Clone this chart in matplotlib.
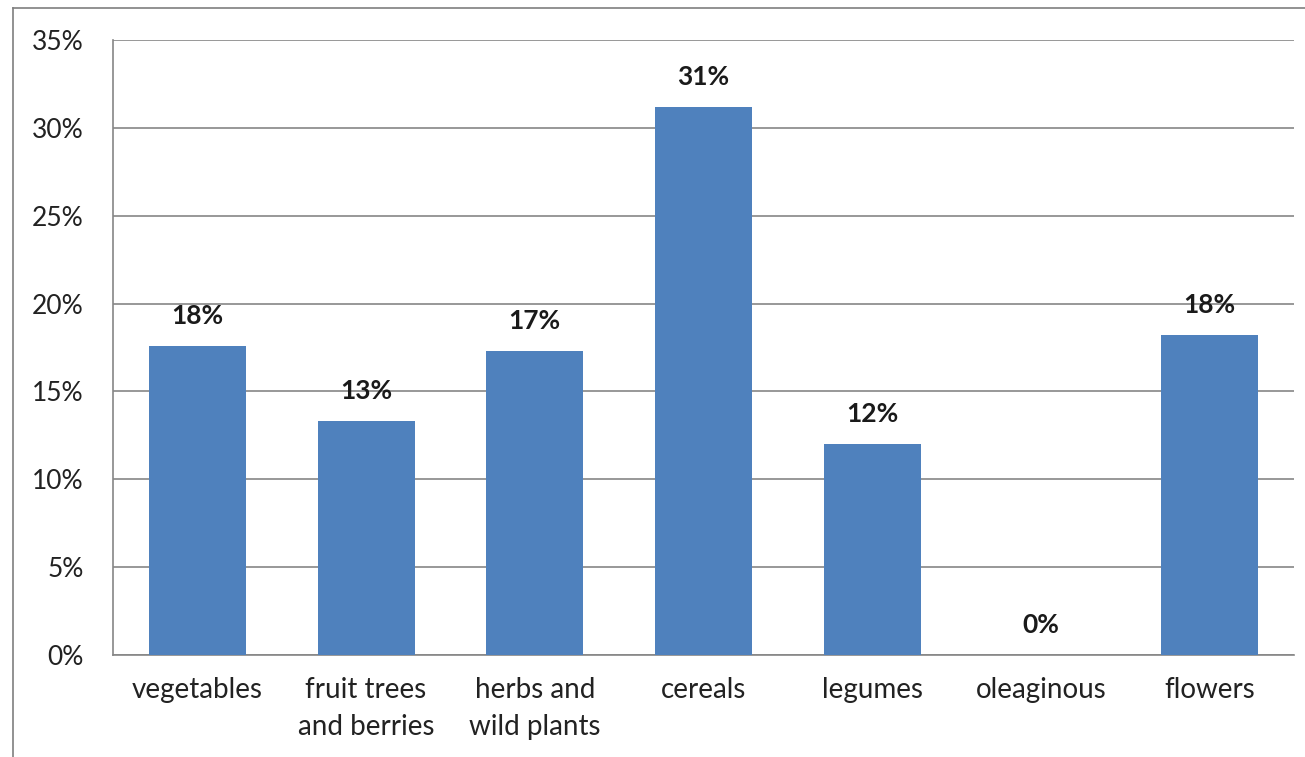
import matplotlib.pyplot as plt
from matplotlib.lines import Line2D
from matplotlib.ticker import FuncFormatter

categories = ['vegetables', 'fruit trees\nand berries', 'herbs and\nwild plants',
              'cereals', 'legumes', 'oleaginous', 'flowers']
shares = [17.6, 13.3, 17.3, 31.2, 12.0, 0.0, 18.2]
bar_labels = ['18%', '13%', '17%', '31%', '12%', '0%', '18%']
y_ticks = [0, 5, 10, 15, 20, 25, 30, 35]

plt.rcParams['font.family'] = ['Lato', 'DejaVu Sans']

fig = plt.figure(figsize=(13.05, 7.57), dpi=100)
ax = fig.add_axes([0.0866, 0.1347, 0.9050, 0.8125])

x = range(len(categories))
bars = ax.bar(x, shares, width=0.575, color='#4F81BD', zorder=3)

# data labels above the bars
for rect, lab in zip(bars, bar_labels):
    ax.annotate(lab, (rect.get_x() + rect.get_width() / 2, rect.get_height()),
                xytext=(0, 13), textcoords='offset points', ha='center', va='bottom',
                fontsize=19, fontweight='bold', color='#1a1a1a', zorder=4)

ax.set_xlim(-0.5, len(categories) - 0.5)
ax.set_ylim(0, 35)
ax.set_yticks(y_ticks)
ax.yaxis.set_major_formatter(FuncFormatter(lambda v, p: f'{v:.0f}%'))
ax.set_xticks(list(x))
ax.set_xticklabels(categories, linespacing=1.5, fontsize=20)
ax.tick_params(axis='y', length=0, labelsize=19, labelcolor='#222222', pad=21)
ax.tick_params(axis='x', length=0, labelcolor='#222222', pad=16)

ax.grid(axis='y', color='#868686', linewidth=1.2, zorder=0)
for side in ['top', 'right']:
    ax.spines[side].set_visible(False)
for side in ['left', 'bottom']:
    ax.spines[side].set_color('#868686')
    ax.spines[side].set_linewidth(1.2)

# outer chart frame (only left and top edges visible)
fig.add_artist(Line2D([13 / 1305, 13 / 1305], [0, 1 - 8 / 757], color='#7f7f7f', linewidth=1.2))
fig.add_artist(Line2D([13 / 1305, 1], [1 - 8 / 757, 1 - 8 / 757], color='#7f7f7f', linewidth=1.2))

fig.savefig('out.png', dpi=100)
